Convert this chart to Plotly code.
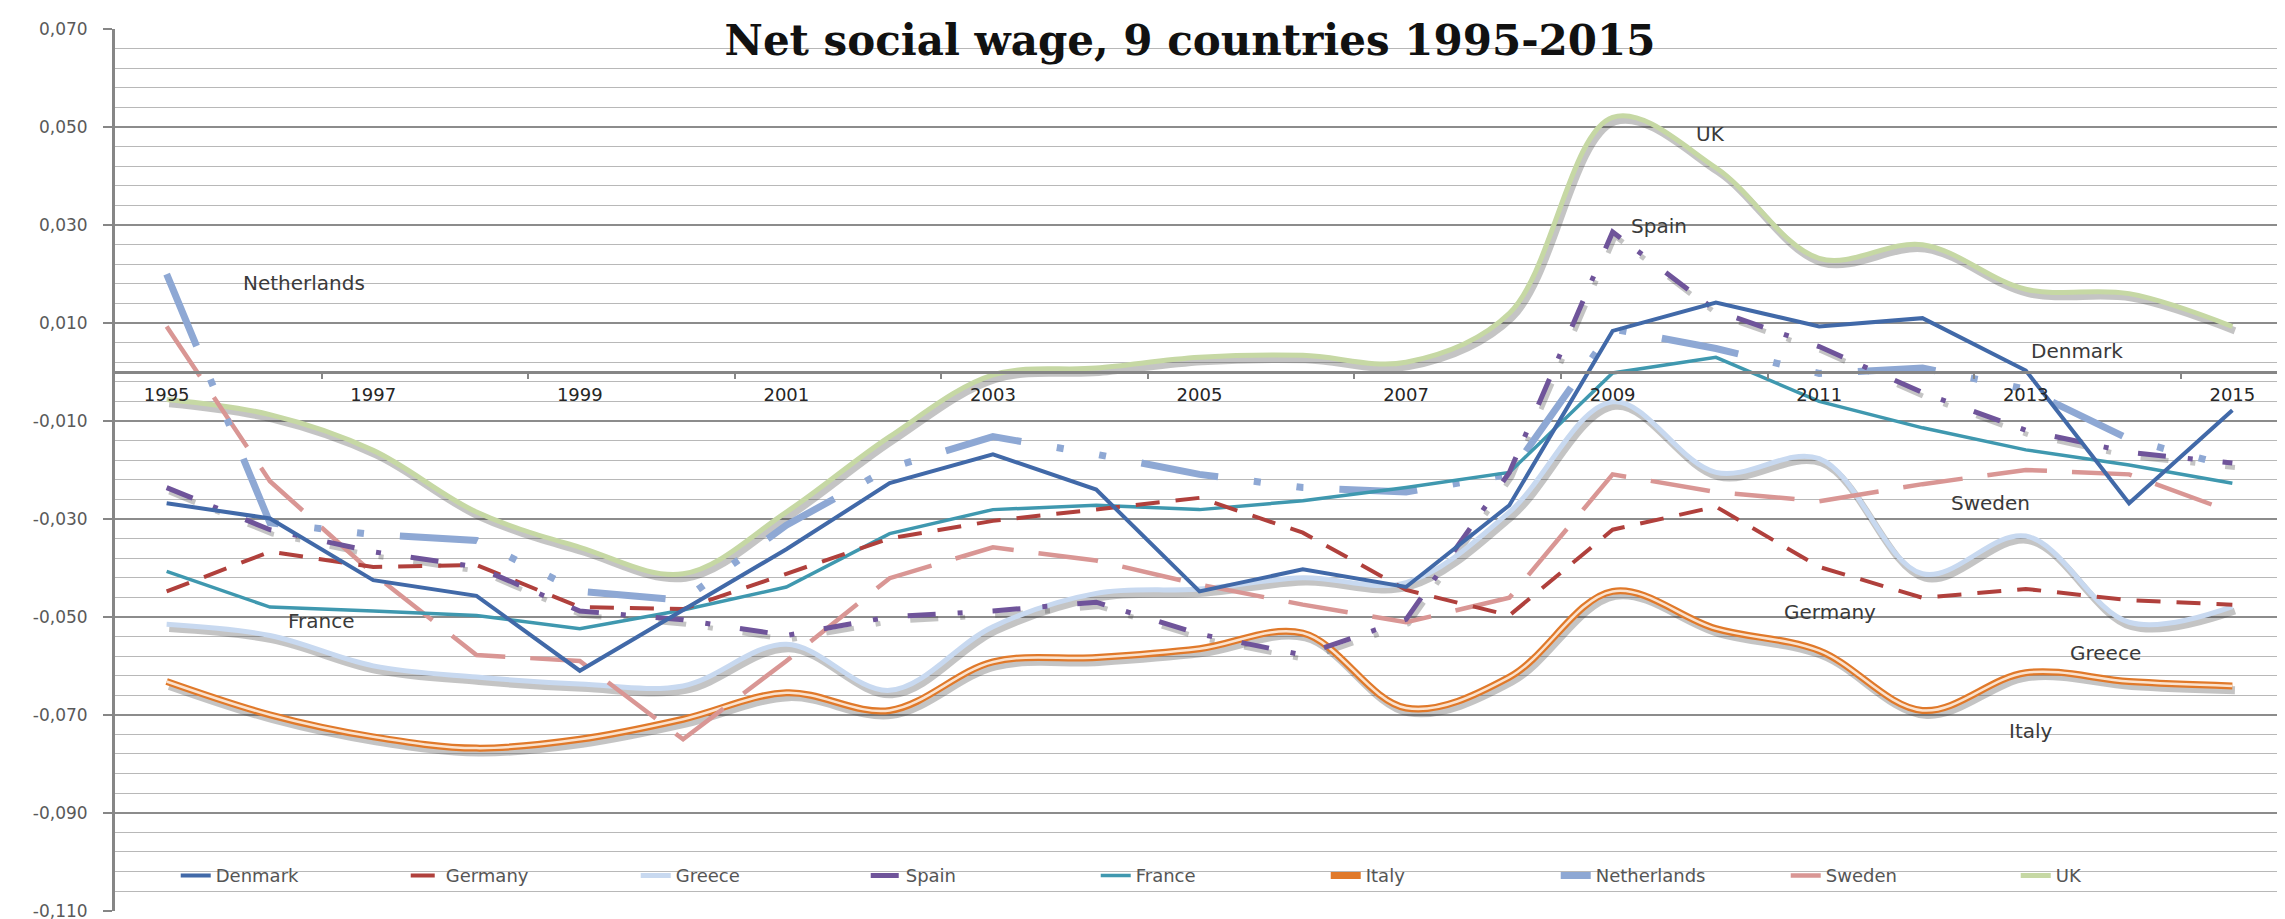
import plotly.graph_objects as go

years = list(range(1995, 2016))

denmark = [-0.0268, -0.0299, -0.0425, -0.0457, -0.0610, -0.0485, -0.0362, -0.0227, -0.0168, -0.0240, -0.0448,
           -0.0403, -0.0439, -0.0272, 0.0084, 0.0142, 0.0093, 0.0110, 0.0003, -0.0268, -0.0078]
germany = [-0.0448, -0.0367, -0.0398, -0.0394, -0.0480, -0.0484, -0.0412, -0.0340, -0.0304, -0.0281, -0.0257,
           -0.0328, -0.0445, -0.0497, -0.0322, -0.0275, -0.0398, -0.0461, -0.0443, -0.0466, -0.0475]
greece = [-0.0515, -0.0538, -0.0600, -0.0623, -0.0637, -0.0641, -0.0556, -0.0650, -0.0520, -0.0452, -0.0443,
          -0.0420, -0.0430, -0.0286, -0.0061, -0.0205, -0.0177, -0.0412, -0.0335, -0.0511, -0.0479]
spain = [-0.0236, -0.0322, -0.0367, -0.0398, -0.0488, -0.0506, -0.0538, -0.0500, -0.0488, -0.0470, -0.0535,
         -0.0578, -0.0505, -0.0205, 0.0286, 0.0125, 0.0052, -0.0042, -0.0119, -0.0164, -0.0186]
france = [-0.0407, -0.0480, -0.0488, -0.0497, -0.0524, -0.0486, -0.0439, -0.0330, -0.0281, -0.0272, -0.0281,
          -0.0263, -0.0236, -0.0205, -0.0002, 0.0030, -0.0060, -0.0114, -0.0159, -0.0190, -0.0227]
italy = [-0.0632, -0.0700, -0.0745, -0.0768, -0.0750, -0.0709, -0.0655, -0.0691, -0.0592, -0.0583, -0.0565,
         -0.0533, -0.0686, -0.0623, -0.0448, -0.0524, -0.0569, -0.0691, -0.0614, -0.0632, -0.0641]
netherlands = [0.0200, -0.0308, -0.0332, -0.0344, -0.0448, -0.0466, -0.0313, -0.0196, -0.0132, -0.0168, -0.0209,
               -0.0236, -0.0245, -0.0209, 0.0088, 0.0048, -0.0003, 0.0008, -0.0035, -0.0137, -0.0194]
sweden = [0.0093, -0.0223, -0.0412, -0.0578, -0.0590, -0.0750, -0.0590, -0.0421, -0.0358, -0.0385, -0.0434,
          -0.0475, -0.0511, -0.0461, -0.0209, -0.0245, -0.0264, -0.0229, -0.0200, -0.0209, -0.0286]
uk = [-0.0056, -0.0087, -0.0160, -0.0286, -0.0358, -0.0412, -0.0286, -0.0132, -0.0006, 0.0008, 0.0030,
      0.0034, 0.0020, 0.0120, 0.0520, 0.0417, 0.0232, 0.0260, 0.0169, 0.0160, 0.0093]

y_ticks = [-0.110, -0.090, -0.070, -0.050, -0.030, -0.010, 0.010, 0.030, 0.050, 0.070]
y_ticktext = [f"{v:.3f}".replace(".", ",") for v in y_ticks]
x_ticks = list(range(1995, 2016, 2))
x_ticktext = [str(y) for y in x_ticks]
x_boundaries = [y + 0.5 for y in range(1996, 2015, 2)]

title_text = "Net social wage, 9 countries 1995-2015"
labels = [("Netherlands", 1996.33, 0.0181), ("France", 1996.5, -0.0509), ("UK", 2009.95, 0.0487),
          ("Spain", 2009.45, 0.0298), ("Denmark", 2013.5, 0.0042), ("Sweden", 2012.66, -0.0268),
          ("Germany", 2011.1, -0.0491), ("Greece", 2013.77, -0.0573), ("Italy", 2013.05, -0.0734)]

SH_DY = -0.0009
SH_DX = 0.025
SHADOW = "rgba(60,60,60,0.30)"

fig = go.Figure()


def shadow(vals, width, dash="solid", shape="linear"):
    fig.add_trace(go.Scatter(x=[x + SH_DX for x in years], y=[v + SH_DY for v in vals], mode="lines",
                             line=dict(color=SHADOW, width=width, dash=dash, shape=shape),
                             showlegend=False, hoverinfo="skip"))


# shadows first
shadow(uk, 7, shape="spline")
shadow(greece, 7, shape="spline")
shadow(italy, 8, shape="spline")
shadow(spain, 5, dash="28px,22px,5px,30px")

fig.add_trace(go.Scatter(x=years, y=uk, name="UK", mode="lines",
                         line=dict(color="#C6D8A4", width=5, shape="spline"), legendrank=9))
fig.add_trace(go.Scatter(x=years, y=greece, name="Greece", mode="lines",
                         line=dict(color="#C8D9F0", width=5, shape="spline"), legendrank=3))
fig.add_trace(go.Scatter(x=years, y=italy, name="Italy", mode="lines",
                         line=dict(color="#E0792A", width=7, shape="spline"), legendrank=6))
fig.add_trace(go.Scatter(x=years, y=italy, mode="lines", showlegend=False, hoverinfo="skip",
                         line=dict(color="#FBE3CF", width=2.5, shape="spline")))
fig.add_trace(go.Scatter(x=years, y=sweden, name="Sweden", mode="lines",
                         line=dict(color="#D99694", width=4.5, dash="60px,25px"), legendrank=8))
fig.add_trace(go.Scatter(x=years, y=netherlands, name="Netherlands", mode="lines",
                         line=dict(color="#8EA8D4", width=7, dash="78px,36px,7px,36px,7px,36px"), legendrank=7))
fig.add_trace(go.Scatter(x=years, y=france, name="France", mode="lines",
                         line=dict(color="#3F98AF", width=3.5), legendrank=5))
fig.add_trace(go.Scatter(x=years, y=germany, name="Germany", mode="lines",
                         line=dict(color="#B0403C", width=4, dash="24px,16px"), legendrank=2))
fig.add_trace(go.Scatter(x=years, y=spain, name="Spain", mode="lines",
                         line=dict(color="#6F549A", width=5, dash="28px,22px,5px,30px"), legendrank=4))
fig.add_trace(go.Scatter(x=years, y=denmark, name="Denmark", mode="lines",
                         line=dict(color="#4169A8", width=4), legendrank=1))

for txt, lx, ly in labels:
    fig.add_annotation(x=lx, y=ly, text=txt, showarrow=False, xanchor="center", yanchor="middle",
                       font=dict(family="DejaVu Sans", size=20, color="#3a3a3a"))

fig.update_layout(
    width=2285, height=919,
    margin=dict(l=107, r=9, t=21, b=6),
    paper_bgcolor="white", plot_bgcolor="white",
    title=dict(text="<b>" + title_text + "</b>", x=1182 / 2285, xanchor="center",
               y=1 - 32 / 919, yanchor="middle",
               font=dict(family="DejaVu Serif", size=42, color="#111111")),
    legend=dict(orientation="h", x=0.028, xanchor="left", y=0.040, yanchor="middle",
                bgcolor="rgba(0,0,0,0)", font=dict(family="DejaVu Sans", size=18, color="#555555"),
                entrywidth=185, entrywidthmode="pixels", traceorder="normal"),
    xaxis=dict(range=[1994.5, 2015.5], tickmode="array", tickvals=x_ticks, ticktext=x_ticktext,
               showgrid=False, zeroline=False, showline=True, linecolor="#868686", linewidth=2.5,
               anchor="free", position=0.11 / 0.18, ticks="", ticklabelstandoff=6,
               tickfont=dict(family="DejaVu Sans", size=18, color="#262626"),
               minor=dict(tickmode="array", tickvals=x_boundaries, ticks="outside", ticklen=5,
                          tickcolor="#868686", tickwidth=1.5, showgrid=False)),
    yaxis=dict(range=[-0.11006, 0.07004], tickmode="array", tickvals=y_ticks, ticktext=y_ticktext,
               showgrid=True, gridcolor="#8c8c8c", gridwidth=1.5, zeroline=False,
               showline=True, linecolor="#868686", linewidth=3, ticklabeloverflow="allow",
               ticks="outside", ticklen=9, tickcolor="#868686", tickwidth=2, ticklabelstandoff=12,
               tickfont=dict(family="DejaVu Sans", size=17, color="#595959"),
               minor=dict(tick0=0.070, dtick=0.004, showgrid=True, gridcolor="#b8b8b8", gridwidth=1)),
    showlegend=True,
)

fig.write_html("out.html")
